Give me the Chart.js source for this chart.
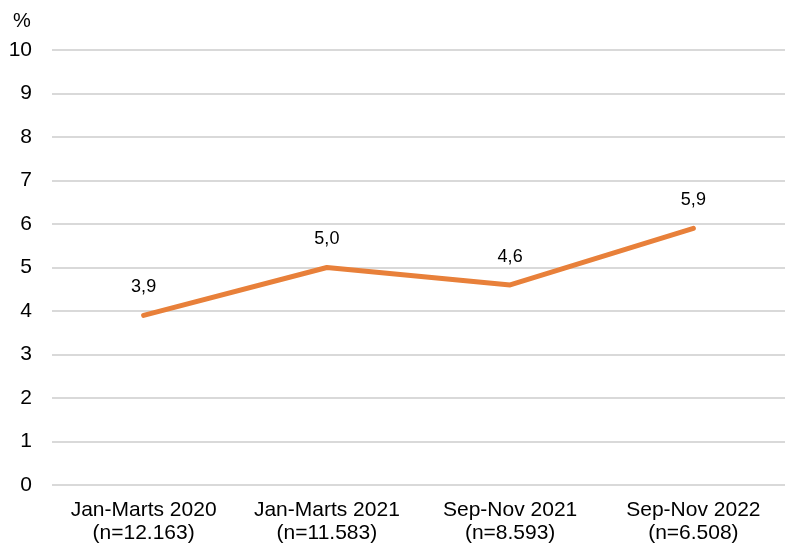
<!DOCTYPE html>
<html><head><meta charset="utf-8">
<script src="https://cdn.jsdelivr.net/npm/chart.js@4"></script>
<style>html,body{margin:0;padding:0;background:#fff}#wrap{width:785px;height:545px}</style>
</head><body><div id="wrap"><canvas id="c" width="785" height="545"></canvas></div>
<script>
const categories = [["Jan-Marts 2020","(n=12.163)"],["Jan-Marts 2021","(n=11.583)"],["Sep-Nov 2021","(n=8.593)"],["Sep-Nov 2022","(n=6.508)"]];
const values = [3.9, 5.0, 4.6, 5.9];
const valueLabels = ["3,9","5,0","4,6","5,9"];
const yTicks = [0,1,2,3,4,5,6,7,8,9,10];
const unitLabel = "%";

const FONT = "'Liberation Sans', Arial, sans-serif";
const labelPlugin = {
  id: 'lbl',
  afterDatasetsDraw(chart) {
    const ctx = chart.ctx;
    const meta = chart.getDatasetMeta(0);
    ctx.save();
    ctx.fillStyle = '#000';
    ctx.font = "18px " + FONT;
    ctx.textAlign = 'center';
    ctx.textBaseline = 'middle';
    meta.data.forEach((p, i) => {
      ctx.fillText(valueLabels[i], p.x, p.y - 28);
    });
    ctx.font = "20px " + FONT;
    ctx.textAlign = 'center';
    ctx.fillText(unitLabel, 22, 21);
    ctx.restore();
  }
};

new Chart(document.getElementById('c'), {
  type: 'line',
  data: {
    labels: categories,
    datasets: [{
      data: values,
      borderColor: '#E8803A',
      borderWidth: 5,
      pointRadius: 0,
      borderCapStyle: 'round',
      borderJoinStyle: 'round',
      tension: 0
    }]
  },
  options: {
    responsive: false,
    animation: false,
    layout: { padding: { top: 50, right: 0, left: 0, bottom: 0 } },
    plugins: { legend: { display: false }, tooltip: { enabled: false } },
    scales: {
      x: {
        offset: true,
        grid: { display: false },
        border: { display: false },
        ticks: { color: '#000', font: { size: 21, family: FONT, lineHeight: 1.08 }, padding: 6, maxRotation: 0, autoSkip: false },
        afterFit(s) { s.height = 60; }
      },
      y: {
        min: 0, max: 10,
        afterBuildTicks(s) { s.ticks = yTicks.map(v => ({ value: v })); },
        grid: { color: '#d9d9d9', lineWidth: 2, drawTicks: false },
        border: { display: false },
        ticks: { color: '#000', font: { size: 21, family: FONT }, padding: 20 },
        afterFit(s) { s.width = 52; }
      }
    }
  },
  plugins: [labelPlugin]
});
</script></body></html>
